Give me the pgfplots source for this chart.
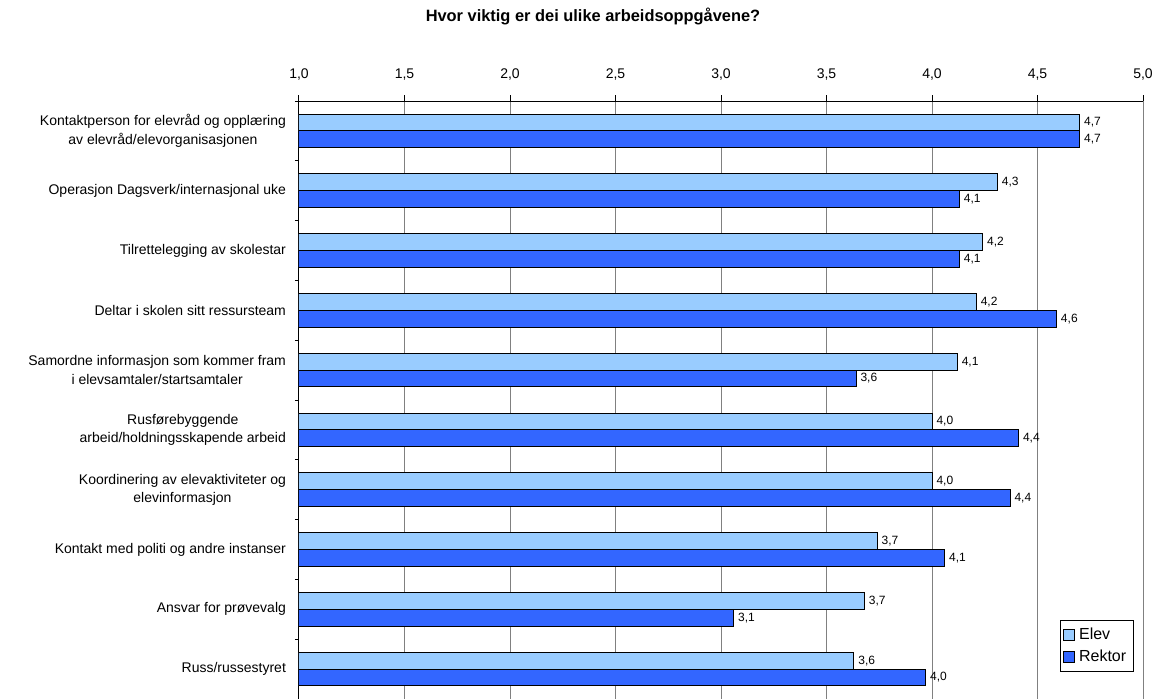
\documentclass[border=0pt]{standalone}
\usepackage{fontspec}
\setmainfont{Liberation Sans}
\usepackage{pgfplots}
\usepackage{pgfplotstable}
\pgfplotsset{compat=1.18}

\definecolor{elev}{HTML}{99CCFF}
\definecolor{rektor}{HTML}{3366FF}
\definecolor{gridgray}{HTML}{808080}

% square legend swatches like the spreadsheet ones
\pgfplotsset{sqlegend/.style={legend image code/.code={%
  \draw[##1,draw=black,line width=0.5pt] (0pt,-2.7pt) rectangle (5.4pt,2.7pt);}}}

% y = position from the bottom (0 = last category)
\pgfplotstableread{
y elev rektor
9 4.70 4.70
8 4.31 4.13
7 4.24 4.13
6 4.21 4.59
5 4.12 3.64
4 4.00 4.41
3 4.00 4.37
2 3.74 4.06
1 3.68 3.06
0 3.63 3.97
}\tasks

\begin{document}
\begin{tikzpicture}
\begin{axis}[
    scale only axis,
    width=422pt, height=299pt,
    xbar, bar width=0.28,
    xmin=1, xmax=5, ymin=-0.5, ymax=9.5,
    axis x line*=top, axis y line*=left,
    axis line style={black, line width=0.5pt, -},
    xtick={1,1.5,...,5},
    xticklabel={\pgfmathprintnumber[fixed,fixed zerofill,precision=1,use comma,assume math mode=true]{\tick}},
    tick label style={font=\fontsize{7}{8}\selectfont},
    xticklabel style={yshift=4pt},
    xmajorgrids,
    grid style={gridgray, line width=0.5pt},
    tick align=outside,
    major tick length=3pt, minor tick length=2pt,
    major x tick style={black, line width=0.5pt},
    ytick={0,...,9},
    yticklabels={
        {Russ/russestyret},
        {Ansvar for prøvevalg},
        {Kontakt med politi og andre instanser},
        {Koordinering av elevaktiviteter og\\elevinformasjon},
        {Rusførebyggende\\arbeid/holdningsskapende arbeid},
        {Samordne informasjon som kommer fram\\i elevsamtaler/startsamtaler},
        {Deltar i skolen sitt ressursteam},
        {Tilrettelegging av skolestar},
        {Operasjon Dagsverk/internasjonal uke},
        {Kontaktperson for elevråd og opplæring\\av elevråd/elevorganisasjonen}},
    yticklabel style={align=center, font=\fontsize{7}{9.2}\selectfont},
    major y tick style={draw=none},
    minor ytick={-0.5,0.5,...,9.5},
    minor y tick style={black, line width=0.5pt},
    nodes near coords={\pgfmathprintnumber[fixed,fixed zerofill,precision=1,use comma,assume math mode=true]{\pgfplotspointmeta}},
    every node near coord/.append style={font=\fontsize{6}{7}\selectfont, black, inner sep=2pt},
    legend style={at={(0.989,0.045)}, anchor=south east,
        font=\fontsize{8}{9.6}\selectfont, draw=black, line width=0.5pt,
        inner sep=1.5pt, row sep=0pt},
    legend cell align=left,
]
\addplot[xbar, bar shift=0.14, fill=elev, draw=black, line width=0.5pt, sqlegend]
    table[x=elev, y=y] {\tasks};
\addplot[xbar, bar shift=-0.14, fill=rektor, draw=black, line width=0.5pt, sqlegend]
    table[x=rektor, y=y] {\tasks};
\legend{Elev, Rektor}
\end{axis}
\node[font=\fontsize{8.2}{10}\selectfont\bfseries, anchor=base] at (147pt,338.5pt)
    {Hvor viktig er dei ulike arbeidsoppgåvene?};
\pgfresetboundingbox
\path (-149.5pt,0.5pt) rectangle (430.5pt,349.5pt);
\end{tikzpicture}
\end{document}
